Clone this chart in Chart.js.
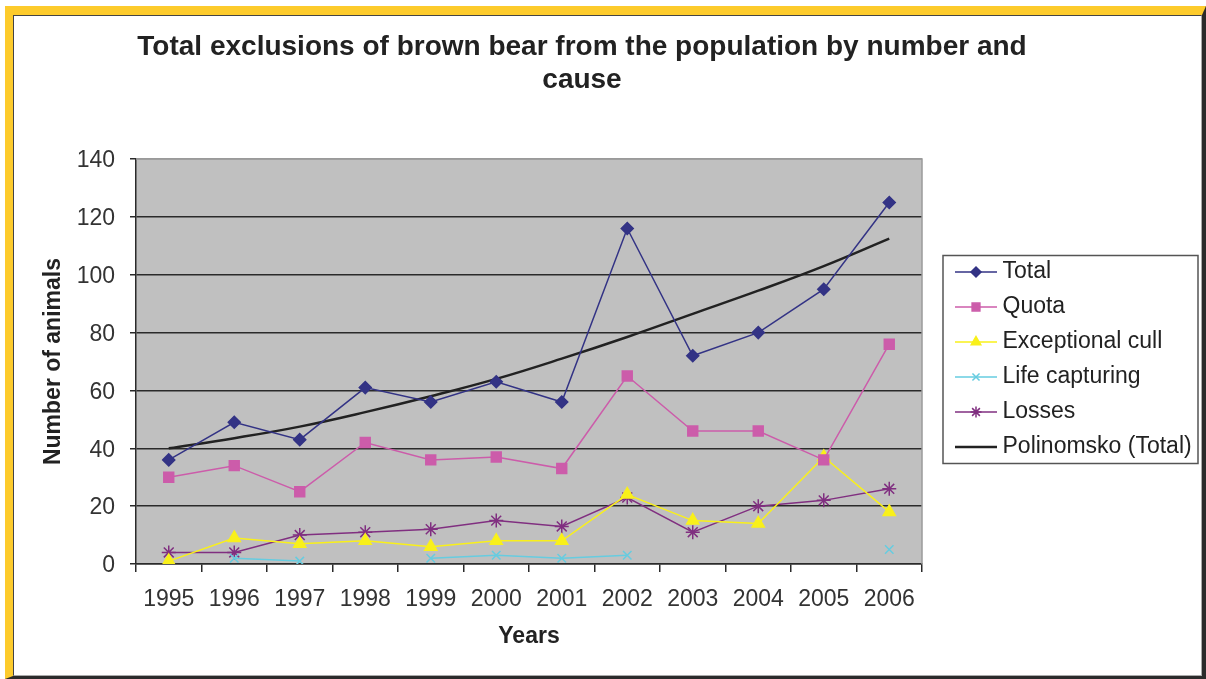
<!DOCTYPE html>
<html>
<head>
<meta charset="utf-8">
<script src="https://cdn.jsdelivr.net/npm/chart.js@4.4.1/dist/chart.umd.min.js"></script>
<style>
  html, body { margin: 0; padding: 0; background: #fff; }
  body { width: 1206px; height: 679px; position: relative; overflow: hidden; }
  #frame { position: absolute; left: 5px; top: 6px; right: 0; bottom: 0;
    border-top: 9px solid #fdcb2c; border-left: 8px solid #fdcb2c;
    border-right: 4px solid #2b2b2b; border-bottom: 3px solid #2b2b2b; }
  #inner { position: absolute; left: 0; top: 0; right: 0; bottom: 0;
    border-top: 1px solid #444; border-left: 1px solid #444;
    border-right: 1px solid #aaa; border-bottom: 1px solid #aaa; }
  #wrap { position: absolute; left: 0; top: 0; width: 1206px; height: 679px; }
</style>
</head>
<body>
<div id="frame"><div id="inner"></div></div>
<div id="wrap"><canvas id="chart" width="1206" height="679"></canvas></div>
<script>
// data
const years = ['1995', '1996', '1997', '1998', '1999', '2000', '2001', '2002', '2003', '2004', '2005', '2006'];
const total = [36, 49, 43, 61, 56, 63, 56, 116, 72, 80, 95, 125];
const quota = [30, 34, 25, 42, 36, 37, 33, 65, 46, 46, 36, 76];
const exceptionalCull = [1, 9, 7, 8, 6, 8, 8, 24, 15, 14, 37, 18];
const lifeCapturing = [null, 2, 1, null, 2, 3, 2, 3, null, null, null, 5];
const losses = [4, 4, 10, 11, 12, 15, 13, 23, 11, 20, 22, 26];
const trendTotal = [40, 43.5, 47.5, 52.5, 58, 64, 71, 78.5, 86.5, 94.5, 103, 112.5];
const yTicks = [0, 20, 40, 60, 80, 100, 120, 140];

const FONT = 'Arial, "Liberation Sans", sans-serif';
const LEGEND_WIDTH = 276;

// little line + marker pictures for the legend
function legendSample(color, pointStyle, radius, lineWidth) {
    const c = document.createElement('canvas');
    c.width = 67; c.height = 14;
    const g = c.getContext('2d');
    g.strokeStyle = color;
    g.fillStyle = color;
    g.lineWidth = lineWidth;
    g.beginPath(); g.moveTo(25, 7); g.lineTo(67, 7); g.stroke();
    if (pointStyle) {
        g.lineWidth = 1.5;
        Chart.helpers.drawPoint(g, { pointStyle, radius, rotation: 0, borderWidth: 1.5 }, 46, 7);
    }
    return c;
}

function series(label, data, color, pointStyle, radius) {
    return {
        label, data,
        borderColor: color, backgroundColor: color,
        pointBackgroundColor: color, pointBorderColor: color,
        pointStyle, pointRadius: radius, pointHoverRadius: radius,
        borderWidth: 1.5, pointBorderWidth: 1.5, tension: 0, fill: false
    };
}

const datasets = [
    series('Total', total, '#333385', 'rectRot', 6),
    series('Quota', quota, '#cc5caa', 'rect', 7),
    series('Exceptional cull', exceptionalCull, '#f9f01a', 'triangle', 7),
    series('Life capturing', lifeCapturing, '#66cce0', 'crossRot', 6),
    series('Losses', losses, '#802f80', 'star', 7),
    { label: 'Polinomsko (Total)', data: trendTotal, borderColor: '#222', backgroundColor: '#222',
      borderWidth: 2.5, pointRadius: 0, tension: 0.4, fill: false }
];

const samples = [
    legendSample('#333385', 'rectRot', 5, 1.5),
    legendSample('#cc5caa', 'rect', 5.5, 1.5),
    legendSample('#f9f01a', 'triangle', 5.5, 1.5),
    legendSample('#66cce0', 'crossRot', 5, 1.5),
    legendSample('#802f80', 'star', 5.5, 1.5),
    legendSample('#222', null, 0, 2.5)
];

const frameBits = {
    id: 'frameBits',
    beforeLayout(chart) {
        const lg = chart.legend;
        if (lg && !lg._fixedFit) {
            const fit = lg.fit;
            lg.fit = function () { fit.call(this); this.width = LEGEND_WIDTH; };
            lg._fixedFit = true;
        }
    },
    afterLayout(chart) {
        const t = chart.titleBlock;
        t.left -= 24; t.right -= 24;
        const lg = chart.legend;
        lg.top += 22; lg.bottom += 22;
        lg.left += 2; lg.right += 2;
    },
    beforeDraw(chart) {
        const a = chart.chartArea, ctx = chart.ctx;
        ctx.save();
        ctx.fillStyle = '#c0c0c0';
        ctx.fillRect(a.left, a.top, a.right - a.left, a.bottom - a.top);
        ctx.restore();
    },
    beforeDatasetsDraw(chart) {
        const a = chart.chartArea, ctx = chart.ctx;
        ctx.save();
        ctx.strokeStyle = '#9a9a9a';
        ctx.lineWidth = 1.5;
        ctx.beginPath();
        ctx.moveTo(a.left, a.top); ctx.lineTo(a.right, a.top); ctx.lineTo(a.right, a.bottom);
        ctx.stroke();
        ctx.restore();
    },
    afterDraw(chart) {
        const lg = chart.legend, ctx = chart.ctx;
        const pad = lg.options.labels.padding;
        const colH = lg.columnSizes[0].height;
        const firstTop = (lg.top + pad + lg.bottom - colH) / 2;
        const x0 = lg.left + 19, x1 = lg.right - 2;
        ctx.save();
        ctx.strokeStyle = '#555';
        ctx.lineWidth = 1.5;
        ctx.strokeRect(x0, firstTop - 5, x1 - x0, colH - pad + 10);
        ctx.restore();
    }
};

new Chart(document.getElementById('chart'), {
    type: 'line',
    data: { labels: years, datasets },
    options: {
        responsive: false,
        animation: false,
        layout: { padding: { left: 14, right: 8, top: 16, bottom: 20 } },
        plugins: {
            tooltip: { enabled: false },
            title: {
                display: true,
                text: ['Total exclusions of brown bear from the population by number and', 'cause'],
                color: '#222',
                font: { family: FONT, size: 28, weight: 'bold', lineHeight: 1.18 },
                padding: { top: 15, bottom: 62 }
            },
            legend: {
                position: 'right',
                labels: {
                    usePointStyle: true,
                    pointStyleWidth: 55,
                    padding: 12,
                    color: '#222',
                    font: { family: FONT, size: 23 },
                    generateLabels(chart) {
                        const items = Chart.defaults.plugins.legend.labels.generateLabels(chart);
                        items.forEach((it, i) => { it.pointStyle = samples[i]; });
                        return items;
                    }
                }
            }
        },
        scales: {
            x: {
                offset: true,
                afterFit(scale) { scale.height = 95; },
                grid: { offset: true, drawOnChartArea: false, drawTicks: true, tickLength: 8, color: '#2a2a2a', lineWidth: 1.5 },
                border: { display: true, color: '#2a2a2a', width: 1.5 },
                ticks: { color: '#333', padding: 14, font: { family: FONT, size: 23 }, maxRotation: 0, autoSkip: false },
                title: { display: true, text: 'Years', color: '#222', padding: { top: 4, bottom: 9 },
                    font: { family: FONT, size: 23, weight: 'bold' } }
            },
            y: {
                min: yTicks[0],
                max: yTicks[yTicks.length - 1],
                afterFit(scale) { scale.width = 122; },
                afterBuildTicks(scale) { scale.ticks = yTicks.map(v => ({ value: v })); },
                grid: {
                    color: c => (c.tick && c.tick.value === 140 ? '#9a9a9a' : '#2a2a2a'),
                    tickColor: '#2a2a2a',
                    lineWidth: 1.5,
                    tickLength: 6
                },
                border: { display: true, color: '#2a2a2a', width: 1.5 },
                ticks: { color: '#333', padding: 15, labelOffset: 2, font: { family: FONT, size: 23 } },
                title: { display: true, text: 'Number of animals', color: '#222', padding: { top: 26, bottom: 4 },
                    font: { family: FONT, size: 23, weight: 'bold' } }
            }
        }
    },
    plugins: [frameBits]
});
</script>
</body>
</html>
